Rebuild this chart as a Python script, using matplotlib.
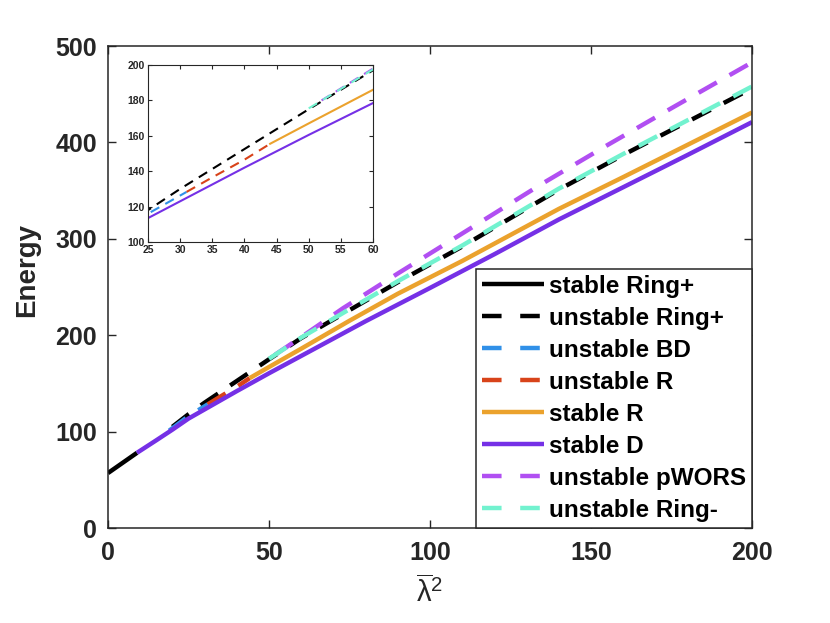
import matplotlib
matplotlib.use("Agg")
import matplotlib.pyplot as plt
from matplotlib.lines import Line2D

plt.rcParams['font.family'] = ['Liberation Sans', 'DejaVu Sans']
plt.rcParams['mathtext.fontset'] = 'custom'
plt.rcParams['mathtext.rm'] = 'Liberation Sans'
plt.rcParams['mathtext.it'] = 'Liberation Sans'
plt.rcParams['mathtext.bf'] = 'Liberation Sans:bold'

# ---- data ----
ringp_stable_x = [0, 4.5, 9]
ringp_stable_y = [57, 67.5, 78]

ringp_unst_x = [20, 25, 30, 40, 50, 60, 75, 90, 110, 140, 160, 180, 200]
ringp_unst_y = [105, 118, 130, 152.5, 175, 197, 226, 255, 292, 351, 387, 421.5, 456]

bd_unst_x = [19, 25, 31]
bd_unst_y = [101, 116, 128.3]

r_unst_x = [31, 35, 40, 44]
r_unst_y = [128.3, 136.5, 146.5, 155.5]

r_stable_x = [44, 50, 60, 75, 90, 110, 140, 160, 180, 200]
r_stable_y = [155.5, 167, 186, 215, 243, 277, 331, 364, 397.5, 431]

d_stable_x = [9, 15, 20, 25, 30, 40, 50, 60, 80, 100, 120, 140, 160, 180, 200]
d_stable_y = [78, 91, 102, 113.5, 123, 142, 160.5, 178.5, 214.5, 249, 284, 320, 353.5, 387, 421]

pwors_x = [52, 60, 73, 90, 110, 135, 155, 175, 200]
pwors_y = [180, 198, 228, 264, 305.5, 357.5, 397, 435.5, 483]

ringm_x = [50, 60, 75, 90, 110, 140, 160, 180, 200]
ringm_y = [175.5, 197.5, 227, 256, 293, 352, 388, 423, 458]

labels = ['stable Ring+', 'unstable Ring+', 'unstable BD', 'unstable R',
          'stable R', 'stable D', 'unstable pWORS', 'unstable Ring-']

main_xticks = [0, 50, 100, 150, 200]
main_yticks = [0, 100, 200, 300, 400, 500]
inset_xticks = [25, 30, 35, 40, 45, 50, 55, 60]
inset_yticks = [100, 120, 140, 160, 180, 200]

# ---- styles ----
series = [
    (ringp_stable_x, ringp_stable_y, '#000000', False),
    (ringp_unst_x, ringp_unst_y, '#000000', True),
    (bd_unst_x, bd_unst_y, '#3090E8', True),
    (r_unst_x, r_unst_y, '#D8431A', True),
    (r_stable_x, r_stable_y, '#EBA22D', False),
    (d_stable_x, d_stable_y, '#7530E6', False),
    (pwors_x, pwors_y, '#B14FF2', True),
    (ringm_x, ringm_y, '#72F2CF', True),
]
DASH = (4.7, 3.3)
LEG_DASH = (4.4, 4.2)
axcol = '#262626'

fig = plt.figure(figsize=(8.3, 6.23), dpi=100)
ax = fig.add_axes([108/830, 95/623, 644/830, 482/623])

handles = []
for (x, y, c, dashed), lab in zip(series, labels):
    if dashed:
        ax.plot(x, y, color=c, lw=3.2, dashes=DASH,
                dash_capstyle='butt', dash_joinstyle='round')
        handles.append(Line2D([], [], color=c, lw=3.2, dashes=LEG_DASH,
                              dash_capstyle='butt', label=lab))
    else:
        ax.plot(x, y, color=c, lw=3.2, solid_capstyle='butt', solid_joinstyle='round')
        handles.append(Line2D([], [], color=c, lw=3.2, solid_capstyle='butt', label=lab))

ax.set_xlim(0, 200)
ax.set_ylim(0, 500)
ax.set_xticks(main_xticks)
ax.set_yticks(main_yticks)
ax.tick_params(direction='in', top=True, right=True, length=6, width=1, colors=axcol,
               labelsize=18)
ax.tick_params(axis='x', pad=9)
ax.tick_params(axis='y', pad=8)
for lab in ax.get_xticklabels() + ax.get_yticklabels():
    lab.set_fontweight('bold')
for s in ax.spines.values():
    s.set_color(axcol)
    s.set_linewidth(1.1)
ax.set_ylabel('Energy', fontsize=20, fontweight='bold', color=axcol)
ax.yaxis.set_label_coords(-0.105, 0.535)
ax.set_xlabel(r'$\overline{\lambda}^{2}$', fontsize=21, fontweight='normal', color=axcol,
              labelpad=8)

leg = ax.legend(handles=handles, loc='lower right', borderaxespad=0, fancybox=False,
                framealpha=1, edgecolor='#262626', handlelength=2.55,
                handletextpad=0.2, labelspacing=0.37, borderpad=0.25,
                prop={'weight': 'bold', 'size': 17.5})
leg.get_frame().set_linewidth(1.1)

# ---- inset ----
ins = fig.add_axes([148/830, 381/623, 225/830, 177/623])
for (x, y, c, dashed) in series:
    if dashed:
        ins.plot(x, y, color=c, lw=1.5, dashes=DASH, dash_capstyle='butt')
    else:
        ins.plot(x, y, color=c, lw=1.5)
ins.set_xlim(25, 60)
ins.set_ylim(100, 200)
ins.set_xticks(inset_xticks)
ins.set_yticks(inset_yticks)
ins.tick_params(direction='in', top=True, right=True, length=3, width=0.8, colors=axcol,
                labelsize=7.5, pad=2.5)
for lab in ins.get_xticklabels() + ins.get_yticklabels():
    lab.set_fontweight('bold')
for s in ins.spines.values():
    s.set_color(axcol)
    s.set_linewidth(0.8)

fig.savefig('out.png', dpi=100)
